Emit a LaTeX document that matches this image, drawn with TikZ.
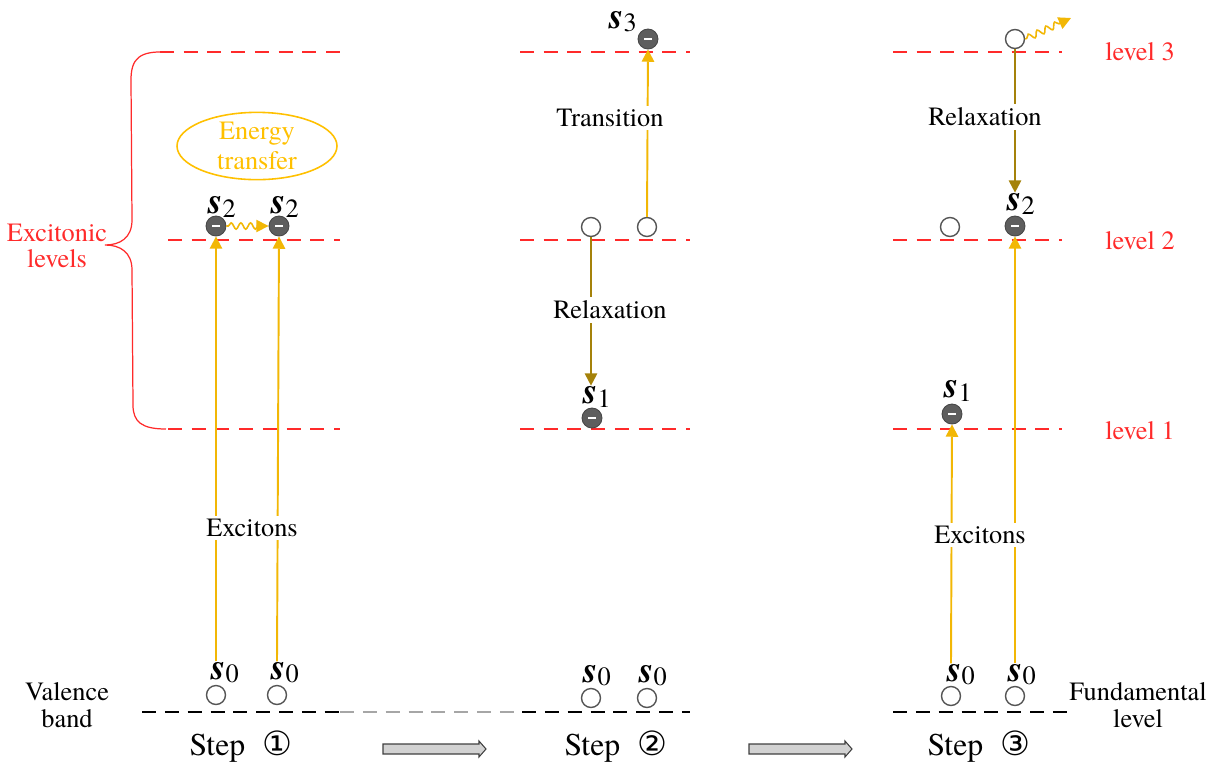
\documentclass[tikz,border=0pt]{standalone}
\usepackage{fontspec}
\setmainfont{TeX Gyre Termes}
\newfontfamily\circfont{DejaVu Sans}
\usetikzlibrary{arrows.meta,decorations.pathmorphing,shapes.geometric,calc}
\definecolor{lvlred}{HTML}{FF2A2A}
\definecolor{excgold}{HTML}{F2B705}
\definecolor{relgold}{HTML}{A5820A}
\definecolor{etxt}{HTML}{FFC000}
\definecolor{egray}{HTML}{5E5E5E}
\definecolor{edark}{HTML}{464646}
\definecolor{hgray}{HTML}{555555}
\newcommand\slab[1]{{\fontsize{21}{21}\selectfont\bfseries\itshape s}\raisebox{-0.4ex}{\fontsize{15}{15}\selectfont #1}}
\newcommand\stepno[1]{Step\hspace{0.55em}{\circfont\fontsize{19}{19}\selectfont #1}}
\tikzset{
  lvl/.style={draw=lvlred, line width=0.85pt, dash pattern=on 8pt off 5.5pt},
  fund/.style={draw=black, line width=0.85pt, dash pattern=on 8pt off 5pt},
  fundlight/.style={draw=gray!70, line width=0.6pt, dash pattern=on 8pt off 5pt},
  hole/.style={circle, draw=hgray, line width=0.8pt, fill=white, minimum size=0.38cm, inner sep=0pt},
  electron/.style={circle, draw=edark, line width=0.5pt, fill=egray, minimum size=0.4cm, inner sep=0pt},
  slabel/.style={inner sep=0.5pt},
  txt/.style={font=\fontsize{15}{17}\selectfont, align=center},
  boxtxt/.style={txt, fill=white, inner sep=2pt},
  redtxt/.style={txt, text=lvlred},
  exc/.style={draw=excgold, line width=1.1pt, -{Triangle[width=7pt,length=7pt]}},
  rel/.style={draw=relgold, line width=1.1pt, -{Triangle[width=7pt,length=7pt]}},
  wavy/.style={draw=excgold, line width=0.9pt, -{Triangle[width=7pt,length=7pt]},
    decorate, decoration={snake, amplitude=1.8pt, segment length=5.5pt, pre length=1pt, post length=5pt}},
  blockarrow/.style={draw=black!75, line width=0.6pt, fill=gray!35},
  steptxt/.style={font=\fontsize{18}{20}\selectfont, inner sep=0pt}
}
\newcommand\minus{\color{white}\rule{0.15cm}{0.055cm}}
\begin{document}
\begin{tikzpicture}[x=0.02cm,y=-0.02cm]
\useasboundingbox (0,0) rectangle (1215,762);

% energy levels
\draw[lvl] (160,52) -- (340,52);
\draw[lvl] (168,240) -- (340,240);
\draw[lvl] (168,429) -- (340,429);
\draw[lvl] (520,52) -- (690,52);
\draw[lvl] (520,240) -- (690,240);
\draw[lvl] (520,429) -- (690,429);
\draw[lvl] (893,52) -- (1062,52);
\draw[lvl] (893,240) -- (1062,240);
\draw[lvl] (893,429) -- (1062,429);
\draw[fund] (142,712) -- (340,712);
\draw[fundlight] (340,712) -- (520,712);
\draw[fund] (522,712) -- (690,712);
\draw[fund] (893,712) -- (1075,712);

% brace for the excitonic levels
\draw[lvlred, line width=0.7pt] (166,52) .. controls (140,51) and (131,58) .. (131,80)
  -- (132,220) .. controls (132,238) and (120,245) .. (105,245)
  .. controls (120,245) and (132,252) .. (132,270)
  -- (133,405) .. controls (133,422) and (142,429) .. (166,429);
\node[redtxt] (exclv) at (57,246) {Excitonic\\[-2pt]levels};

% side labels
\node[redtxt] (l3) at (1140,52) {level 3};
\node[redtxt] (l2) at (1140,241) {level 2};
\node[redtxt] (l1) at (1140,431) {level 1};
\node[txt] (vb) at (67,705) {Valence\\[-2pt]band};
\node[txt] (fl) at (1138,705) {Fundamental\\[-2pt]level};

% ---------- step 1 ----------
\node[hole] (a0) at (216,695) {};
\node[hole] (b0) at (277,695) {};
\node[slabel] (la0) at (225,673) {\slab{0}};
\node[slabel] (lb0) at (285,673) {\slab{0}};
\node[electron] (a2) at (216,226) {\minus};
\node[electron] (b2) at (279,226) {\minus};
\node[slabel] (la2) at (222,207) {\slab{2}};
\node[slabel] (lb2) at (285,207) {\slab{2}};
\draw[exc] (la0.north -| a0) -- (a2.south);
\draw[exc] (lb0.north -| b0) -- (b2.south);
\draw[wavy] (a2.east) -- (b2.west);
\node[boxtxt] (x1) at (252,528) {Excitons};
\node[ellipse, draw=etxt, line width=0.9pt, minimum width=3.2cm, minimum height=1.18cm,
      inner sep=0pt, txt, text=etxt] (et) at (257,146) {Energy\\[0pt]transfer};

% ---------- step 2 ----------
\node[hole] (c0) at (591,698) {};
\node[hole] (d0) at (647,698) {};
\node[slabel] (lc0) at (597,676) {\slab{0}};
\node[slabel] (ld0) at (653,676) {\slab{0}};
\node[hole] (c2) at (591,227) {};
\node[hole] (d2) at (647,227) {};
\node[electron] (d3) at (648,39) {\minus};
\node[slabel] (ld3) at (623,22) {\slab{3}};
\node[electron] (c1) at (592,418) {\minus};
\node[slabel] (lc1) at (597,397) {\slab{1}};
\draw[exc] (d2.north) -- (d3.south);
\draw[rel] (c2.south) -- (lc1.north -| c2);
\node[boxtxt] (tr) at (610,118) {Transition};
\node[boxtxt] (rx2) at (610,310) {Relaxation};

% ---------- step 3 ----------
\node[hole] (e0) at (951,696) {};
\node[hole] (f0) at (1015,696) {};
\node[slabel] (le0) at (961,675) {\slab{0}};
\node[slabel] (lf0) at (1022,675) {\slab{0}};
\node[hole] (e2) at (950,227) {};
\node[electron] (f2) at (1015,226) {\minus};
\node[slabel] (lf2) at (1021,204) {\slab{2}};
\node[electron] (e1) at (952,414) {\minus};
\node[slabel] (le1) at (958,391) {\slab{1}};
\node[hole] (f3) at (1015,39) {};
\coordinate (emit) at (1071,18);
\draw[exc] (le0.north -| e0) -- (e1.south);
\draw[exc] (lf0.north -| f0) -- (f2.south);
\draw[rel] (f3.south) -- (lf2.north -| f3);
\draw[wavy] (f3.east) -- (emit);
\node[boxtxt] (rx3) at (985,117) {Relaxation};
\node[boxtxt] (x3) at (980,535) {Excitons};

% ---------- step labels and block arrows ----------
\node[steptxt] (st1) at (241,747) {\stepno{①}};
\node[steptxt] (st2) at (616,747) {\stepno{②}};
\node[steptxt] (st3) at (979,747) {\stepno{③}};
\draw[blockarrow] (383,744) -- (479,744) -- (479,741) -- (486,749) -- (479,757)
  -- (479,754) -- (383,754) -- cycle;
\draw[blockarrow] (749,744) -- (845,744) -- (845,741) -- (852,749) -- (845,757)
  -- (845,754) -- (749,754) -- cycle;
\end{tikzpicture}
\end{document}
